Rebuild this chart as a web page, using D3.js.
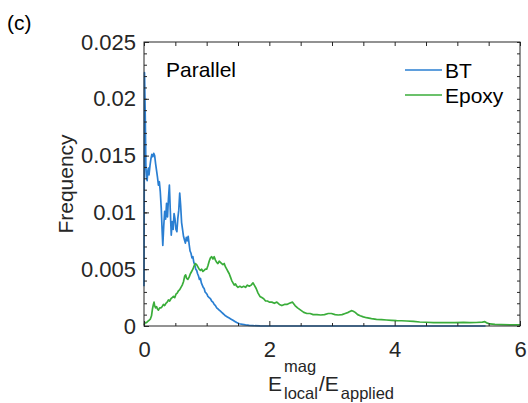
<!DOCTYPE html>
<html>
<head>
<meta charset="utf-8">
<script src="https://cdn.jsdelivr.net/npm/d3@7"></script>
<style>
  html, body { margin: 0; padding: 0; background: #fff; }
  svg { display: block; font-family: "Liberation Sans", Arial, sans-serif; }
</style>
</head>
<body>
<svg id="chart" width="528" height="403"></svg>
<script>
// Histogram of local field magnitude, BT particles vs epoxy matrix
const btData = [
  [0.000, 0.0035], [0.008, 0.0223], [0.020, 0.0185], [0.030, 0.0140], [0.040, 0.0131],
  [0.050, 0.0128], [0.060, 0.0136], [0.070, 0.0139], [0.080, 0.0133], [0.095, 0.0141],
  [0.110, 0.0147], [0.125, 0.0151], [0.140, 0.0149], [0.155, 0.0152], [0.170, 0.0150],
  [0.185, 0.0143], [0.200, 0.0137], [0.215, 0.0131], [0.230, 0.0124], [0.245, 0.0127],
  [0.260, 0.0118], [0.275, 0.0104], [0.290, 0.0083], [0.300, 0.0071], [0.315, 0.0088],
  [0.330, 0.0101], [0.345, 0.0094], [0.360, 0.0108], [0.375, 0.0096], [0.390, 0.0112],
  [0.405, 0.0124], [0.420, 0.0101], [0.435, 0.0080], [0.450, 0.0092], [0.465, 0.0085],
  [0.480, 0.0099], [0.495, 0.0094], [0.510, 0.0085], [0.525, 0.0083], [0.540, 0.0095],
  [0.555, 0.0102], [0.570, 0.0117], [0.585, 0.0106], [0.600, 0.0091], [0.615, 0.0085],
  [0.630, 0.0079], [0.645, 0.0076], [0.660, 0.0073], [0.675, 0.0078], [0.690, 0.0075],
  [0.705, 0.0079], [0.720, 0.0072], [0.735, 0.0066], [0.750, 0.0064], [0.765, 0.0060],
  [0.780, 0.0061], [0.795, 0.0056], [0.810, 0.0054], [0.825, 0.0050], [0.840, 0.0049],
  [0.855, 0.0046], [0.870, 0.0044], [0.885, 0.0041], [0.900, 0.0042], [0.915, 0.0038],
  [0.930, 0.0036], [0.945, 0.0034], [0.960, 0.0033], [0.975, 0.0030], [0.990, 0.0029],
  [1.005, 0.0028], [1.020, 0.0026], [1.040, 0.0025], [1.060, 0.0024], [1.080, 0.0022],
  [1.100, 0.0021], [1.120, 0.0019], [1.140, 0.0018], [1.160, 0.0016], [1.180, 0.0015],
  [1.200, 0.0014], [1.220, 0.0013], [1.240, 0.0012], [1.260, 0.0011], [1.280, 0.0010],
  [1.300, 0.0009], [1.330, 0.0008], [1.360, 0.0007], [1.390, 0.0006], [1.420, 0.0005],
  [1.450, 0.0004], [1.480, 0.0003], [1.520, 0.0002], [1.570, 0.00015], [1.620, 0.0001],
  [1.680, 0.00006], [1.750, 0.00003], [1.850, 0.00001], [2.000, 0.0], [5.450, 0.0]
];

const epoxyData = [
  [0.000, 0.0001], [0.020, 0.0003], [0.040, 0.0003], [0.060, 0.0004], [0.080, 0.0005],
  [0.100, 0.0006], [0.120, 0.0009], [0.135, 0.0015], [0.150, 0.0019], [0.160, 0.0021],
  [0.170, 0.0018], [0.185, 0.0016], [0.200, 0.0017], [0.215, 0.0015], [0.230, 0.0014],
  [0.250, 0.0016], [0.270, 0.0016], [0.290, 0.0017], [0.310, 0.0019], [0.330, 0.0018],
  [0.350, 0.0020], [0.370, 0.0021], [0.390, 0.0023], [0.410, 0.0022], [0.430, 0.0024],
  [0.450, 0.0025], [0.470, 0.0026], [0.490, 0.0025], [0.510, 0.0028], [0.530, 0.0029],
  [0.550, 0.0031], [0.570, 0.0032], [0.590, 0.0034], [0.610, 0.0036], [0.630, 0.0039],
  [0.650, 0.0044], [0.665, 0.0045], [0.680, 0.0042], [0.700, 0.0041], [0.720, 0.0043],
  [0.740, 0.0046], [0.760, 0.0048], [0.780, 0.0050], [0.800, 0.0053], [0.820, 0.0055],
  [0.840, 0.0054], [0.860, 0.0052], [0.880, 0.0050], [0.900, 0.0049], [0.920, 0.0050],
  [0.940, 0.0048], [0.960, 0.0049], [0.980, 0.0050], [1.000, 0.0050], [1.020, 0.0053],
  [1.040, 0.0057], [1.060, 0.0060], [1.080, 0.0061], [1.100, 0.0059], [1.120, 0.0061],
  [1.140, 0.0058], [1.160, 0.0056], [1.180, 0.0055], [1.200, 0.0057], [1.220, 0.0056],
  [1.240, 0.0055], [1.260, 0.0054], [1.280, 0.0055], [1.300, 0.0052], [1.320, 0.0050],
  [1.340, 0.0048], [1.360, 0.0046], [1.380, 0.0043], [1.400, 0.0040], [1.420, 0.0038],
  [1.440, 0.0036], [1.460, 0.0037], [1.480, 0.0035], [1.500, 0.0034], [1.530, 0.0035],
  [1.560, 0.0034], [1.590, 0.0035], [1.620, 0.0034], [1.650, 0.0036], [1.680, 0.0035],
  [1.710, 0.0036], [1.740, 0.0038], [1.760, 0.0036], [1.790, 0.0033], [1.820, 0.0029],
  [1.850, 0.0026], [1.880, 0.0025], [1.910, 0.0024], [1.940, 0.0022], [1.970, 0.0022],
  [2.000, 0.0021], [2.040, 0.0021], [2.080, 0.0020], [2.120, 0.0021], [2.160, 0.0019],
  [2.200, 0.0018], [2.240, 0.0019], [2.280, 0.0019], [2.320, 0.0020], [2.370, 0.0021],
  [2.410, 0.0018], [2.450, 0.0016], [2.500, 0.0014], [2.550, 0.0012], [2.600, 0.0011],
  [2.650, 0.0011], [2.700, 0.0010], [2.760, 0.0010], [2.820, 0.00097], [2.880, 0.0010],
  [2.940, 0.0011], [2.990, 0.0011], [3.050, 0.0010], [3.100, 0.00097], [3.160, 0.0010],
  [3.210, 0.0011], [3.260, 0.0012], [3.310, 0.00135], [3.340, 0.0013], [3.370, 0.0012],
  [3.410, 0.0010], [3.450, 0.0009], [3.500, 0.0008], [3.550, 0.00073], [3.630, 0.00065],
  [3.710, 0.00059], [3.790, 0.00056], [3.870, 0.00053], [3.950, 0.0005], [4.030, 0.00047],
  [4.110, 0.00046], [4.190, 0.00044], [4.300, 0.0004], [4.400, 0.00035], [4.500, 0.00033],
  [4.620, 0.0003], [4.720, 0.00031], [4.830, 0.0003], [4.960, 0.00029], [5.100, 0.00032],
  [5.200, 0.0003], [5.300, 0.00031], [5.400, 0.00034], [5.440, 0.00038], [5.480, 0.00025],
  [5.520, 0.00018], [5.600, 0.00014], [5.700, 0.00012], [5.850, 0.0001], [6.000, 0.0001]
];

const xTicks = [0, 2, 4, 6];
const xMinorTicks = [0.5, 1, 1.5, 2.5, 3, 3.5, 4.5, 5, 5.5];
const yTicks = [0, 0.005, 0.01, 0.015, 0.02, 0.025];
const yMinorTicks = d3.range(0, 26).map(i => i / 1000);

const seriesNames = ["BT", "Epoxy"];
const seriesColors = ["#2a7fd2", "#3aad3a"];
const panelLabel = "(c)";
const panelTitle = "Parallel";

const svg = d3.select("#chart");
const margin = { left: 144, top: 42, right: 8, bottom: 77 };
const W = 528 - margin.left - margin.right;
const H = 403 - margin.top - margin.bottom;
const axisColor = "#262626";
const FS = 21;
const tickFS = 22;

const x = d3.scaleLinear().domain([0, 6]).range([0, W]);
const y = d3.scaleLinear().domain([0, 0.025]).range([H, 0]);

const g = svg.append("g").attr("transform", `translate(${margin.left},${margin.top})`);

g.append("defs").append("clipPath").attr("id", "plotClip")
  .append("rect").attr("x", -1).attr("y", -1).attr("width", W + 2).attr("height", H + 2);

// Curves
const line = d3.line().x(d => x(d[0])).y(d => y(d[1]));
const plot = g.append("g").attr("clip-path", "url(#plotClip)");
[btData, epoxyData].forEach((data, i) => {
  plot.append("path").datum(data)
    .attr("fill", "none")
    .attr("stroke", seriesColors[i])
    .attr("stroke-width", 1.7)
    .attr("stroke-linejoin", "round")
    .attr("d", line);
});

// Box with inward ticks on all four sides
function styleAxis(sel) {
  sel.selectAll("path").remove();
  sel.selectAll("line").attr("stroke", axisColor).attr("stroke-width", 1);
  sel.selectAll("text").attr("fill", axisColor).style("font-size", tickFS + "px")
    .style("font-family", '"Liberation Sans", Arial, sans-serif');
}

const fmtY = d => d === 0 ? "0" : String(+d.toFixed(3));

g.append("g").attr("transform", `translate(0,${H})`)
  .call(d3.axisBottom(x).tickValues(xMinorTicks).tickSize(-3).tickFormat(""))
  .call(styleAxis);
g.append("g").attr("transform", `translate(0,${H})`)
  .call(d3.axisBottom(x).tickValues(xTicks).tickSize(-5).tickPadding(15).tickFormat(d3.format("d")))
  .call(styleAxis);
g.append("g")
  .call(d3.axisTop(x).tickValues(xMinorTicks.concat(xTicks)).tickSize(-4).tickFormat(""))
  .call(styleAxis);

g.append("g")
  .call(d3.axisLeft(y).tickValues(yMinorTicks).tickSize(-3).tickFormat(""))
  .call(styleAxis);
g.append("g")
  .call(d3.axisLeft(y).tickValues(yTicks).tickSize(-5).tickPadding(8).tickFormat(fmtY))
  .call(styleAxis);
g.append("g").attr("transform", `translate(${W},0)`)
  .call(d3.axisRight(y).tickValues(yMinorTicks).tickSize(-3).tickFormat(""))
  .call(styleAxis);

g.append("rect").attr("width", W).attr("height", H)
  .attr("fill", "none").attr("stroke", axisColor).attr("stroke-width", 1);

// Title inside the axes
g.append("text").attr("x", 22).attr("y", 35)
  .attr("fill", "#000").style("font-size", FS + "px").text(panelTitle);

// Legend
const legend = g.append("g").attr("transform", `translate(${W - 115},0)`);
seriesNames.forEach((name, i) => {
  const ly = 28 + i * 25;
  legend.append("line").attr("x1", 0).attr("x2", 37).attr("y1", ly).attr("y2", ly)
    .attr("stroke", seriesColors[i]).attr("stroke-width", 1.7);
  legend.append("text").attr("x", 40).attr("y", ly + 7.5)
    .attr("fill", "#000").style("font-size", FS + "px").text(name);
});

// Panel label
svg.append("text").attr("x", 7).attr("y", 30)
  .attr("fill", "#000").style("font-size", FS + "px").text(panelLabel);

// Y axis label
svg.append("text")
  .attr("transform", `translate(73,${margin.top + H / 2}) rotate(-90)`)
  .attr("text-anchor", "middle").attr("fill", axisColor)
  .style("font-size", FS + "px").text("Frequency");

// X axis label: E_local^mag / E_applied
const subFS = 16.5;
const xl = svg.append("g").attr("fill", axisColor);
const e1 = xl.append("text").attr("x", 268).attr("y", 391).style("font-size", FS + "px").text("E");
const e1End = 268 + e1.node().getComputedTextLength() + 2;
const sup = xl.append("text").attr("x", e1End).attr("y", 372).style("font-size", subFS + "px").text("mag");
const sub = xl.append("text").attr("x", e1End).attr("y", 399).style("font-size", subFS + "px").text("local");
const slashX = e1End + Math.max(sup.node().getComputedTextLength(), sub.node().getComputedTextLength()) + 1;
const e2 = xl.append("text").attr("x", slashX).attr("y", 391).style("font-size", FS + "px").text("/E");
const e2End = slashX + e2.node().getComputedTextLength() + 2;
xl.append("text").attr("x", e2End).attr("y", 399).style("font-size", subFS + "px").text("applied");
</script>
</body>
</html>
